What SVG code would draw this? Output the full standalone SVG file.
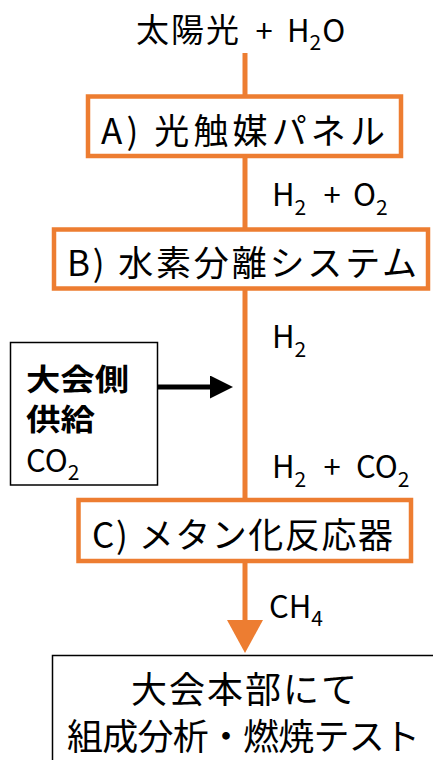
<svg xmlns="http://www.w3.org/2000/svg" width="433" height="760" viewBox="0 0 433 760">
<style>
text{font-family:"Noto Sans CJK JP","Noto Sans",sans-serif;fill:#000}
.box{fill:#fff;stroke:#ED7D31;stroke-width:4.5}
.plain{fill:#fff;stroke:#000;stroke-width:1.5}
.flow{stroke:#ED7D31;stroke-width:5;fill:none}
.feed{stroke:#000;stroke-width:5;fill:none}
.bt{font-size:35px}
.lab{font-size:31px}
.cjk{font-size:33px}
.sub{font-size:21px}
.bold{font-size:30px;font-weight:bold}
.big{font-size:36px}
</style>
<defs>
<marker id="oa" viewBox="0 0 33 36" refX="10" refY="18" markerWidth="33" markerHeight="36" markerUnits="userSpaceOnUse" orient="auto">
<path d="M0,0 L33,18 L0,36 Z" fill="#ED7D31"/>
</marker>
<marker id="ba" viewBox="0 0 23 23" refX="5" refY="11.5" markerWidth="23" markerHeight="23" markerUnits="userSpaceOnUse" orient="auto">
<path d="M0,0 L23,11.5 L0,23 Z" fill="#000"/>
</marker>
</defs>

<g id="connectors">
<line class="flow" x1="245" y1="53" x2="245" y2="97"/>
<line class="flow" x1="245" y1="156" x2="245" y2="230"/>
<line class="flow" x1="245" y1="288" x2="245" y2="500"/>
<line class="flow" x1="245" y1="561" x2="245" y2="630" marker-end="url(#oa)"/>
<line class="feed" x1="158" y1="387" x2="215" y2="387" marker-end="url(#ba)"/>
</g>

<g id="source">
<text class="cjk" x="136" y="42" textLength="103" lengthAdjust="spacing">太陽光</text>
<text class="lab" x="264" y="42" text-anchor="middle">+</text>
<text class="lab" x="287" y="42">H<tspan class="sub" dy="8">2</tspan><tspan dy="-8" dx="1">O</tspan></text>
</g>

<g id="nodeA">
<rect class="box" x="88" y="96.5" width="313" height="59.5"/>
<text class="bt" x="101" y="144" textLength="284" lengthAdjust="spacing">A) 光触媒パネル</text>
</g>

<g id="labelAB">
<text class="lab" x="272" y="206">H<tspan class="sub" dy="9">2</tspan></text>
<text class="lab" x="332" y="206" text-anchor="middle">+</text>
<text class="lab" x="353" y="206">O<tspan class="sub" dy="9">2</tspan></text>
</g>

<g id="nodeB">
<rect class="box" x="54" y="229.5" width="374" height="59"/>
<text class="bt" x="67" y="276" textLength="350" lengthAdjust="spacing">B) 水素分離システム</text>
</g>

<g id="labelH2">
<text class="lab" x="272" y="348">H<tspan class="sub" dy="9">2</tspan></text>
</g>

<g id="co2supply">
<rect class="plain" x="10.5" y="342.5" width="147" height="142.5"/>
<text class="bold" x="26" y="390" textLength="103" lengthAdjust="spacingAndGlyphs">大会側</text>
<text class="bold" x="26" y="430" textLength="69" lengthAdjust="spacingAndGlyphs">供給</text>
<text class="lab" x="26" y="472">CO<tspan class="sub" dy="8">2</tspan></text>
</g>

<g id="labelBC">
<text class="lab" x="272" y="478">H<tspan class="sub" dy="9">2</tspan></text>
<text class="lab" x="332" y="478" text-anchor="middle">+</text>
<text class="lab" x="356" y="478">CO<tspan class="sub" dy="9">2</tspan></text>
</g>

<g id="nodeC">
<rect class="box" x="78.5" y="500" width="332.5" height="61"/>
<text class="bt" x="92" y="548" textLength="301" lengthAdjust="spacing">C) メタン化反応器</text>
</g>

<g id="labelCH4">
<text class="lab" x="269" y="618">CH<tspan class="sub" dy="8">4</tspan></text>
</g>

<g id="test">
<rect class="plain" x="52.5" y="655.5" width="400" height="200"/>
<text class="big" x="131" y="703" textLength="226" lengthAdjust="spacing">大会本部にて</text>
<text class="big" x="67" y="750" textLength="353" lengthAdjust="spacing">組成分析・燃焼テスト</text>
</g>
</svg>
